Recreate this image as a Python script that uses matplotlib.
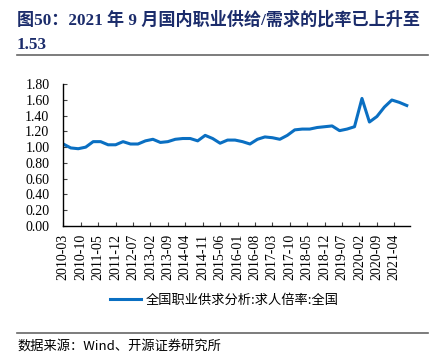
import matplotlib
matplotlib.use("Agg")
import matplotlib.pyplot as plt
from matplotlib.lines import Line2D

# ---- data ----
dates = [f"{y}-{m:02d}" for y in range(2010, 2022) for m in (3, 6, 9, 12)][:47]
values = [
    1.04, 0.99, 0.98, 1.00,   # 2010
    1.07, 1.07, 1.03, 1.03,   # 2011
    1.07, 1.04, 1.04, 1.08,   # 2012
    1.10, 1.06, 1.07, 1.10,   # 2013
    1.11, 1.11, 1.08, 1.15,   # 2014
    1.11, 1.05, 1.09, 1.09,   # 2015
    1.07, 1.04, 1.10, 1.13,   # 2016
    1.12, 1.10, 1.15, 1.22,   # 2017
    1.23, 1.23, 1.25, 1.26,   # 2018
    1.27, 1.21, 1.23, 1.26,   # 2019
    1.62, 1.32, 1.39, 1.51,   # 2020
    1.60, 1.57, 1.53,         # 2021
]
tick_labels = ["2010-03", "2010-10", "2011-05", "2011-12", "2012-07", "2013-02",
               "2013-09", "2014-04", "2014-11", "2015-06", "2016-01", "2016-08",
               "2017-03", "2017-10", "2018-05", "2018-12", "2019-07", "2020-02",
               "2020-09", "2021-04"]
y_ticks = [0.0, 0.2, 0.4, 0.6, 0.8, 1.0, 1.2, 1.4, 1.6, 1.8]
series_name = "全国职业供求分析:求人倍率:全国"
title_line1 = "图50：2021 年 9 月国内职业供给/需求的比率已上升至"
title_line2 = "1.53"
source_text = "数据来源：Wind、开源证券研究所"

def month_index(s):
    y, m = s.split("-")
    return (int(y) - 2010) * 12 + (int(m) - 3)

x = [month_index(d) for d in dates]
xt = [month_index(d) for d in tick_labels]

SERIF = ["Liberation Serif", "Noto Sans CJK SC", "DejaVu Sans"]
CJK = ["Noto Sans CJK SC", "Liberation Serif", "DejaVu Sans"]
plt.rcParams["font.family"] = SERIF

W, H = 441, 359
fig = plt.figure(figsize=(W / 100, H / 100), dpi=100)
ax = fig.add_axes([63.3 / W, (H - 225.7) / H, (410 - 63.3) / W, (225.7 - 84.3) / H])

line_color = "#0A6FC2"
ax.plot(x, values, color=line_color, lw=2.2, solid_joinstyle="round")
ax.set_xlim(0, 139.3)
ax.set_ylim(0, 1.8)
ax.set_yticks(y_ticks)
ax.set_yticklabels([f"{v:.2f}" for v in y_ticks], fontsize=10, family=SERIF)
ax.set_xticks(xt)
ax.set_xticklabels(tick_labels, rotation=90, fontsize=10, family=SERIF)
for s in ("top", "right"):
    ax.spines[s].set_visible(False)
for s in ("left", "bottom"):
    ax.spines[s].set_color("black")
    ax.spines[s].set_linewidth(1.0)
ax.tick_params(axis="both", direction="in", length=3, width=0.8, color="#444444")
ax.tick_params(axis="y", pad=10)
ax.tick_params(axis="x", pad=6)

handle = Line2D([], [], color=line_color, lw=2.2)
fig.legend([handle], [series_name], loc="center", bbox_to_anchor=(224 / W, 1 - 300 / H),
           frameon=False, prop={"family": CJK, "size": 9.5}, handlelength=2.4,
           handletextpad=0.3)

title_color = "#1B2C6B"
fig.text(17 / W, 1 - 20 / H, title_line1, fontsize=12.3, fontweight="bold",
         color=title_color, family=SERIF, va="center", ha="left")
fig.text(17 / W, 1 - 45 / H, title_line2, fontsize=12.3, fontweight="bold",
         color=title_color, family=SERIF, va="center", ha="left")

fig.add_artist(Line2D([17 / W, 428 / W], [1 - 54.5 / H] * 2, color="#666666", lw=1.2))
fig.add_artist(Line2D([17 / W, 428 / W], [1 - 333 / H] * 2, color="#666666", lw=1.2))

fig.text(17 / W, 1 - 346 / H, source_text, fontsize=9.5, family=CJK, color="black",
         va="center", ha="left")

fig.savefig("out.png", dpi=100)
